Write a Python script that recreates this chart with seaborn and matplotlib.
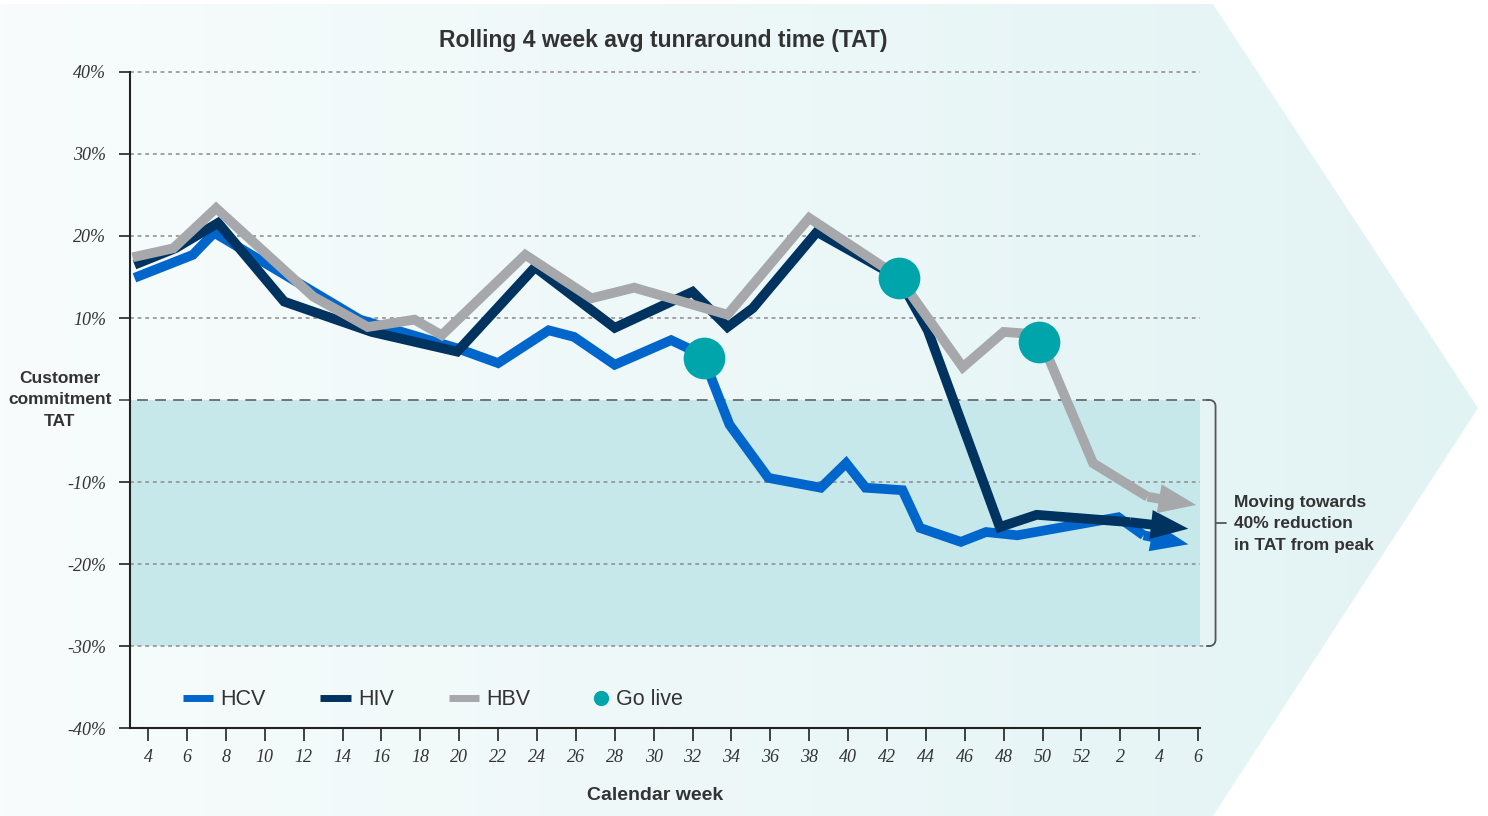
import numpy as np
import pandas as pd
import seaborn as sns
import matplotlib.pyplot as plt
from matplotlib.lines import Line2D
from matplotlib.patches import Polygon

# x = calendar week position (weeks of the next year continue after 52, so 54 = week 2)
hcv_week = [3.3, 6.3, 7.4, 14.9, 19.9, 22.0, 24.6, 25.9, 28.0, 30.9, 32.5, 33.9, 35.9,
            38.6, 39.9, 40.9, 42.8, 43.7, 45.8, 47.1, 48.7, 53.9, 55.2, 57.5]
hcv_tat = [14.9, 17.7, 20.4, 9.8, 6.3, 4.5, 8.5, 7.7, 4.3, 7.3, 5.5, -3.0, -9.5,
           -10.7, -7.7, -10.7, -11.0, -15.6, -17.3, -16.1, -16.5, -14.3, -16.5, -17.6]

hiv_week = [3.3, 5.4, 7.6, 11.0, 15.5, 19.9, 23.9, 28.0, 32.0, 33.8, 35.1, 38.4, 42.6,
            44.1, 47.8, 49.7, 54.5, 57.5]
hiv_tat = [16.5, 18.5, 21.6, 12.0, 8.3, 5.9, 16.2, 8.8, 13.2, 8.9, 11.2, 20.5, 14.9,
           8.5, -15.5, -14.0, -14.9, -15.7]

hbv_week = [3.2, 5.3, 7.5, 12.5, 15.3, 17.7, 19.1, 23.4, 26.8, 29.0, 33.8, 38.0, 42.6,
            45.9, 48.0, 49.8, 52.6, 55.4, 57.9]
hbv_tat = [17.4, 18.5, 23.4, 12.6, 8.9, 9.8, 7.9, 17.7, 12.4, 13.7, 10.4, 22.2, 15.0,
           4.0, 8.3, 8.0, -7.7, -11.8, -12.8]

golive_week = [32.6, 42.6, 49.8]
golive_tat = [5.1, 14.9, 7.1]

x_ticks = list(range(4, 59, 2))
x_labels = [str(w) for w in range(4, 53, 2)] + ["2", "4", "6"]
y_ticks = [-40, -30, -20, -10, 0, 10, 20, 30, 40]
y_labels = [f"{v}%" if v != 0 else "" for v in y_ticks]

colors = {"HCV": "#0066cc", "HIV": "#00335f", "HBV": "#a7a8ac"}
teal = "#00a5ab"
txt = "#333333"

sns.set_style("white")
plt.rcParams["font.family"] = ["Liberation Sans", "DejaVu Sans"]

W, H = 1488, 816
fig = plt.figure(figsize=(W / 100, H / 100), dpi=100, facecolor="white")

# chevron background with a soft horizontal gradient
bg = fig.add_axes([0, 0, 1, 1], zorder=-5)
bg.set_xlim(0, W)
bg.set_ylim(0, H)
bg.axis("off")
c0 = np.array([248, 252, 252]) / 255
c1 = np.array([226, 243, 244]) / 255
t = np.linspace(0, 1, 300)[None, :, None]
grad = np.repeat(c0 + (c1 - c0) * t, 2, axis=0)
im = bg.imshow(grad, extent=[0, W, 0, H], aspect="auto", origin="lower")
chev = Polygon([(0, 0), (1213, 0), (1478, 408), (1213, 812), (0, 812)],
               closed=True, transform=bg.transData, facecolor="none", edgecolor="none")
bg.add_patch(chev)
im.set_clip_path(chev)

ax = fig.add_axes([130 / W, 1 - 728 / H, 1070 / W, 656 / H])
ax.set_facecolor("none")
ax.set_xlim(3.07, 58.1)
ax.set_ylim(-40, 40)

ax.axhspan(-30, 0, color="#c6e8ea", zorder=0, lw=0)
for v in y_ticks:
    if v in (0, -40):
        continue
    xr = 1.008 if v == -30 else 1.0
    ax.plot([0, xr], [v, v], transform=ax.get_yaxis_transform(), clip_on=False,
            color="#8a8a8a", lw=1.1, ls=(0, (2.5, 2.5)), zorder=1)
ax.plot([-0.01, 1.008], [0, 0], transform=ax.get_yaxis_transform(), clip_on=False,
        color="#6a6a6a", lw=1.3, ls=(0, (6, 4)), zorder=1)

series = [("HCV", hcv_week, hcv_tat), ("HIV", hiv_week, hiv_tat), ("HBV", hbv_week, hbv_tat)]
for z, (name, wk, val) in enumerate(series):
    df = pd.DataFrame({"week": wk[:-1], "tat": val[:-1]})
    sns.lineplot(data=df, x="week", y="tat", ax=ax, color=colors[name], lw=7,
                 estimator=None, sort=False, zorder=3 + z,
                 solid_joinstyle="miter", solid_capstyle="butt")
    ax.annotate("", xy=(wk[-1], val[-1]), xytext=(wk[-2], val[-2]),
                arrowprops=dict(arrowstyle="simple,head_length=27,head_width=21,tail_width=7",
                                mutation_scale=1, color=colors[name], lw=0,
                                shrinkA=0, shrinkB=0),
                zorder=3 + z)

gl = pd.DataFrame({"week": golive_week, "tat": golive_tat})
sns.scatterplot(data=gl, x="week", y="tat", ax=ax, s=900, color=teal, linewidth=0, zorder=8)

ax.set_xticks(x_ticks, x_labels, fontfamily="Liberation Serif", fontstyle="italic",
              fontsize=13, color=txt)
ax.set_yticks(y_ticks, y_labels, fontfamily="Liberation Serif", fontstyle="italic",
              fontsize=13, color=txt)
ax.tick_params(axis="x", direction="out", length=9, width=1.2, color="#222", pad=6, bottom=True)
ax.tick_params(axis="y", direction="out", length=8, width=1.2, color="#222", pad=9, left=True)
ax.set_xlabel("")
ax.set_ylabel("")
for s in ("top", "right"):
    ax.spines[s].set_visible(False)
for s in ("left", "bottom"):
    ax.spines[s].set_color("#222")
    ax.spines[s].set_linewidth(1.5)

# legend: the three lines, then the go-live dot as its own small legend
line_handles = [Line2D([], [], color=colors[k], lw=5, solid_capstyle="butt")
                for k in ("HCV", "HIV", "HBV")]
leg = ax.legend(line_handles, ["HCV", "HIV", "HBV"], loc="center left",
                bbox_to_anchor=(0.031, 0.043), ncol=3, frameon=False, fontsize=15.5,
                handlelength=1.4, handletextpad=0.35, columnspacing=2.55)
for tx in leg.get_texts():
    tx.set_color(txt)
ax.add_artist(leg)
dot_handle = Line2D([], [], color=teal, lw=0, marker="o", markersize=10)
leg2 = ax.legend([dot_handle], ["Go live"], loc="center left",
                 bbox_to_anchor=(0.4117, 0.043), frameon=False, fontsize=15.5,
                 handlelength=1.0, handletextpad=0.2)
for tx in leg2.get_texts():
    tx.set_color(txt)

# right-hand bracket around the target zone (rounded corners)
r_x, r_y = 0.3, 0.75
ang = np.linspace(0, np.pi / 2, 8)
top_x = 58.6 + r_x * np.sin(ang)
top_y = 0 - r_y * (1 - np.cos(ang))
bx = np.concatenate([[58.45], top_x, top_x[::-1], [58.45]])
by = np.concatenate([[0], top_y, -30 - top_y[::-1], [-30]])
ax.plot(bx, by, color="#555", lw=1.3, clip_on=False, zorder=2)
ax.plot([58.9, 59.45], [-15, -15], color="#555", lw=1.3, clip_on=False, zorder=2)

fig.text(663 / W, 1 - 41 / H, "Rolling 4 week avg tunraround time (TAT)",
         ha="center", va="center", fontsize=16.5, fontweight="bold", color=txt)
fig.text(655 / W, 1 - 795 / H, "Calendar week", ha="center", va="center",
         fontsize=14, fontweight="bold", color=txt)
fig.text(60 / W, 1 - 400 / H, "Customer\ncommitment\nTAT", ha="center", va="center",
         fontsize=12.5, fontweight="bold", color=txt, linespacing=1.55)
fig.text(1234 / W, 1 - 524 / H, "Moving towards\n40% reduction\nin TAT from peak",
         ha="left", va="center", fontsize=12.5, fontweight="bold", color=txt, linespacing=1.55)

fig.savefig("out.png", dpi=100, facecolor="white")
